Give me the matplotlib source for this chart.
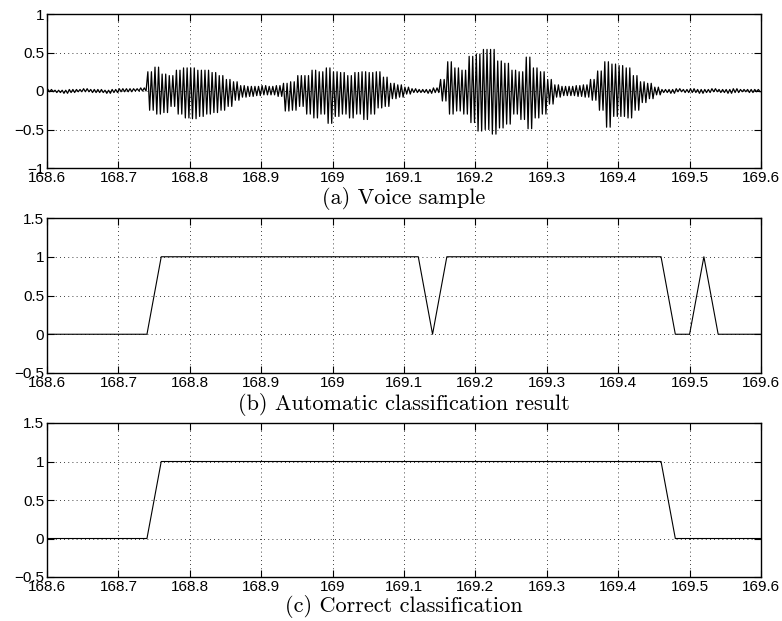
import numpy as np
import matplotlib
matplotlib.use("Agg")
import matplotlib.pyplot as plt

# ---------------- data ----------------
# (a) voice sample: per-0.01 s bin maximum / minimum
bin_start = 168.60
bin_width = 0.01
wave_max = [0.02, 0.01, 0.01, 0.02, 0.02, 0.03, 0.02, 0.02, 0.01, 0.02,
            0.03, 0.03, 0.03, 0.04, 0.25, 0.31, 0.22, 0.20, 0.27, 0.30,
            0.30, 0.27, 0.27, 0.24, 0.20, 0.15, 0.12, 0.07, 0.06, 0.06,
            0.07, 0.06, 0.07, 0.10, 0.12, 0.20, 0.20, 0.27, 0.25, 0.30,
            0.25, 0.24, 0.20, 0.24, 0.25, 0.24, 0.25, 0.18, 0.10, 0.08,
            0.05, 0.03, 0.02, 0.02, 0.04, 0.15, 0.38, 0.30, 0.27, 0.45,
            0.48, 0.54, 0.54, 0.39, 0.36, 0.27, 0.25, 0.44, 0.30, 0.25,
            0.15, 0.08, 0.06, 0.06, 0.07, 0.08, 0.15, 0.26, 0.38, 0.35,
            0.33, 0.30, 0.20, 0.12, 0.10, 0.05, 0.02, 0.02, 0.03, 0.02,
            0.03, 0.02, 0.02, 0.03, 0.02, 0.02, 0.03, 0.02, 0.02, 0.02]
wave_min = [-0.01, -0.02, -0.03, -0.02, -0.01, -0.01, -0.02, -0.02, -0.03, -0.02,
            -0.01, -0.01, 0.00, 0.00, -0.25, -0.30, -0.28, -0.20, -0.30, -0.35,
            -0.36, -0.33, -0.30, -0.28, -0.25, -0.20, -0.12, -0.08, -0.07, -0.06,
            -0.05, -0.05, -0.07, -0.26, -0.25, -0.20, -0.30, -0.35, -0.30, -0.42,
            -0.33, -0.30, -0.35, -0.30, -0.37, -0.30, -0.22, -0.20, -0.10, -0.08,
            -0.04, -0.02, -0.02, -0.03, -0.02, -0.13, -0.30, -0.26, -0.30, -0.41,
            -0.52, -0.50, -0.56, -0.48, -0.43, -0.30, -0.37, -0.49, -0.35, -0.30,
            -0.17, -0.08, -0.06, -0.06, -0.07, -0.08, -0.12, -0.25, -0.47, -0.33,
            -0.33, -0.35, -0.25, -0.15, -0.10, -0.05, -0.02, -0.03, -0.01, -0.02,
            -0.02, -0.03, -0.02, -0.01, -0.02, -0.03, -0.02, -0.01, -0.02, -0.01]

# (b), (c) classification per 0.02 s frame, 168.60 ... 169.60
frame_start = 168.60
frame_step = 0.02
auto_class = [0, 0, 0, 0, 0, 0, 0, 0, 1, 1,
              1, 1, 1, 1, 1, 1, 1, 1, 1, 1,
              1, 1, 1, 1, 1, 1, 1, 0, 1, 1,
              1, 1, 1, 1, 1, 1, 1, 1, 1, 1,
              1, 1, 1, 1, 0, 0, 1, 0, 0, 0,
              0]
correct_class = [0, 0, 0, 0, 0, 0, 0, 0, 1, 1,
                 1, 1, 1, 1, 1, 1, 1, 1, 1, 1,
                 1, 1, 1, 1, 1, 1, 1, 1, 1, 1,
                 1, 1, 1, 1, 1, 1, 1, 1, 1, 1,
                 1, 1, 1, 1, 0, 0, 0, 0, 0, 0,
                 0]

x_ticks = [168.6, 168.7, 168.8, 168.9, 169.0, 169.1, 169.2, 169.3, 169.4, 169.5, 169.6]
x_labels = ["168.6", "168.7", "168.8", "168.9", "169", "169.1", "169.2", "169.3", "169.4", "169.5", "169.6"]
captions = ["(a) Voice sample", "(b) Automatic classification result", "(c) Correct classification"]

# ---------------- build series ----------------
# each bin is drawn as two swings between its read maximum and minimum
nb = len(wave_max)
bins = bin_start + bin_width * np.arange(nb)
sub = np.array([0.125, 0.375, 0.625, 0.875]) * bin_width
wt = (bins[:, None] + sub[None, :]).ravel()
wy = np.column_stack([wave_max, wave_min, wave_max, wave_min]).ravel()

ft = frame_start + frame_step * np.arange(len(auto_class))

# ---------------- figure ----------------
W, H = 782, 621
fig = plt.figure(figsize=(W / 100, H / 100), dpi=100)

left = 47 / W
width = 714 / W
panels = [(14, 168), (218, 373), (423, 577)]
caption_y = [199, 405, 606]

tick_font = dict(family="Liberation Sans", size=11)

axes = []
for (top, bot) in panels:
    ax = fig.add_axes([left, 1 - bot / H, width, (bot - top) / H])
    axes.append(ax)

def style(ax, yticks, ylabels, ylim):
    ax.set_xlim(168.6, 169.6)
    ax.set_ylim(*ylim)
    ax.set_xticks(x_ticks)
    ax.set_xticklabels(x_labels, **tick_font)
    ax.set_yticks(yticks)
    ax.set_yticklabels(ylabels, **tick_font)
    ax.tick_params(direction="in", length=5, width=0.8, top=True, right=True, pad=2)
    ax.grid(True, color="black", linestyle=(0, (1, 4)), linewidth=0.6)
    for s in ax.spines.values():
        s.set_linewidth(1.0)

ax1, ax2, ax3 = axes
ax1.plot(wt, wy, color="black", linewidth=0.9)
style(ax1, [-1, -0.5, 0, 0.5, 1], ["\u22121", "\u22120.5", "0", "0.5", "1"], (-1, 1))

ax2.plot(ft, auto_class, color="black", linewidth=0.8)
style(ax2, [-0.5, 0, 0.5, 1, 1.5], ["\u22120.5", "0", "0.5", "1", "1.5"], (-0.5, 1.5))

ax3.plot(ft, correct_class, color="black", linewidth=0.8)
style(ax3, [-0.5, 0, 0.5, 1, 1.5], ["\u22120.5", "0", "0.5", "1", "1.5"], (-0.5, 1.5))

for cap, cy in zip(captions, caption_y):
    fig.text((47 + 761) / 2 / W, 1 - cy / H, cap, ha="center", va="center",
             family="cmr10", size=16)

fig.savefig("out.png", dpi=100)
